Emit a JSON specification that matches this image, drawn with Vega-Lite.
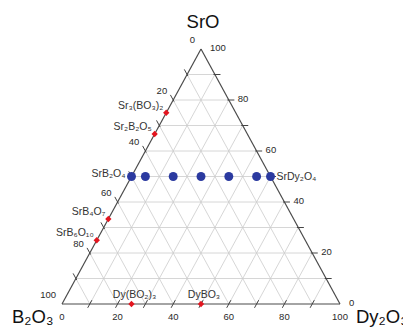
{
  "$schema": "https://vega.github.io/schema/vega-lite/v6.json",
  "width": 278,
  "height": 255,
  "autosize": "none",
  "padding": {"left": 62, "top": 49, "right": 63, "bottom": 23},
  "background": "white",
  "config": {"view": {"stroke": null}, "font": "Liberation Sans"},
  "datasets": {
    "steps": [{"v": 10}, {"v": 20}, {"v": 30}, {"v": 40}, {"v": 50}, {"v": 60}, {"v": 70}, {"v": 80}, {"v": 90}],
    "ticklabels": [{"v": 0}, {"v": 20}, {"v": 40}, {"v": 60}, {"v": 80}, {"v": 100}],
    "edges": [
      {"d1": 0, "s1": 0, "d2": 100, "s2": 0},
      {"d1": 100, "s1": 0, "d2": 0, "s2": 100},
      {"d1": 0, "s1": 100, "d2": 0, "s2": 0}
    ],
    "titles": [
      {"title": "SrO", "Dy": 0, "SrO": 100, "corner": "top"},
      {"title": "B₂O₃", "Dy": 0, "SrO": 0, "corner": "left"},
      {"title": "Dy₂O₃", "Dy": 100, "SrO": 0, "corner": "right"}
    ],
    "phases": [
      {"name": "Sr₃(BO₃)₂", "Dy": 0, "SrO": 75, "side": "left"},
      {"name": "Sr₂B₂O₅", "Dy": 0, "SrO": 66.67, "side": "left"},
      {"name": "SrB₄O₇", "Dy": 0, "SrO": 33.33, "side": "left"},
      {"name": "SrB₆O₁₀", "Dy": 0, "SrO": 25, "side": "left"},
      {"name": "Dy(BO₂)₃", "Dy": 25, "SrO": 0, "side": "bottom"},
      {"name": "DyBO₃", "Dy": 50, "SrO": 0, "side": "bottom"}
    ],
    "named": [
      {"name": "SrB₂O₄", "Dy": 0, "SrO": 50, "side": "left"},
      {"name": "SrDy₂O₄", "Dy": 50, "SrO": 50, "side": "right"}
    ],
    "samples": [
      {"Dy": 0, "SrO": 50},
      {"Dy": 5, "SrO": 50},
      {"Dy": 15, "SrO": 50},
      {"Dy": 25, "SrO": 50},
      {"Dy": 35, "SrO": 50},
      {"Dy": 45, "SrO": 50},
      {"Dy": 50, "SrO": 50}
    ]
  },
  "encoding": {
    "x": {"field": "xa", "type": "quantitative", "scale": {"domain": [0, 100], "nice": false, "zero": false}, "axis": null},
    "y": {"field": "ya", "type": "quantitative", "scale": {"domain": [0, 100], "nice": false, "zero": false}, "axis": null}
  },
  "layer": [
    {
      "data": {"name": "steps"},
      "transform": [
        {"calculate": "datum.v/2", "as": "xa"},
        {"calculate": "datum.v", "as": "ya"},
        {"calculate": "100-datum.v/2", "as": "xb"},
        {"calculate": "datum.v", "as": "yb"}
      ],
      "mark": {"type": "rule", "color": "#cccccc", "strokeWidth": 0.8},
      "encoding": {"x2": {"field": "xb"}, "y2": {"field": "yb"}}
    },
    {
      "data": {"name": "steps"},
      "transform": [
        {"calculate": "datum.v", "as": "xa"},
        {"calculate": "0", "as": "ya"},
        {"calculate": "50+datum.v/2", "as": "xb"},
        {"calculate": "100-datum.v", "as": "yb"}
      ],
      "mark": {"type": "rule", "color": "#cccccc", "strokeWidth": 0.8},
      "encoding": {"x2": {"field": "xb"}, "y2": {"field": "yb"}}
    },
    {
      "data": {"name": "steps"},
      "transform": [
        {"calculate": "100-datum.v", "as": "xa"},
        {"calculate": "0", "as": "ya"},
        {"calculate": "(100-datum.v)/2", "as": "xb"},
        {"calculate": "100-datum.v", "as": "yb"}
      ],
      "mark": {"type": "rule", "color": "#cccccc", "strokeWidth": 0.8},
      "encoding": {"x2": {"field": "xb"}, "y2": {"field": "yb"}}
    },
    {
      "data": {"name": "edges"},
      "transform": [
        {"calculate": "datum.d1+datum.s1/2", "as": "xa"},
        {"calculate": "datum.s1", "as": "ya"},
        {"calculate": "datum.d2+datum.s2/2", "as": "xb"},
        {"calculate": "datum.s2", "as": "yb"}
      ],
      "mark": {"type": "rule", "color": "#4a4a4a", "strokeWidth": 1.2},
      "encoding": {"x2": {"field": "xb"}, "y2": {"field": "yb"}}
    },
    {
      "data": {"name": "steps"},
      "transform": [
        {"calculate": "datum.v-0.75", "as": "xa"},
        {"calculate": "-1.5", "as": "ya"},
        {"calculate": "datum.v+0.75", "as": "xb"},
        {"calculate": "1.5", "as": "yb"}
      ],
      "mark": {"type": "rule", "color": "#444444", "strokeWidth": 1},
      "encoding": {"x2": {"field": "xb"}, "y2": {"field": "yb"}}
    },
    {
      "data": {"name": "steps"},
      "transform": [
        {"calculate": "100-datum.v/2-0.5", "as": "xa"},
        {"calculate": "datum.v", "as": "ya"},
        {"calculate": "100-datum.v/2+2", "as": "xb"},
        {"calculate": "datum.v", "as": "yb"}
      ],
      "mark": {"type": "rule", "color": "#444444", "strokeWidth": 1},
      "encoding": {"x2": {"field": "xb"}, "y2": {"field": "yb"}}
    },
    {
      "data": {"name": "steps"},
      "transform": [
        {"calculate": "(98-datum.v)/2", "as": "xa"},
        {"calculate": "102-datum.v", "as": "ya"},
        {"calculate": "(100.6-datum.v)/2", "as": "xb"},
        {"calculate": "99.4-datum.v", "as": "yb"}
      ],
      "mark": {"type": "rule", "color": "#444444", "strokeWidth": 1},
      "encoding": {"x2": {"field": "xb"}, "y2": {"field": "yb"}}
    },
    {
      "data": {"name": "ticklabels"},
      "transform": [
        {"calculate": "datum.v", "as": "xa"},
        {"calculate": "0", "as": "ya"}
      ],
      "mark": {"type": "text", "fontSize": 9.5, "color": "#2a2a2a", "align": "center", "baseline": "middle", "dy": 13},
      "encoding": {"text": {"field": "v", "type": "nominal"}}
    },
    {
      "data": {"name": "ticklabels"},
      "transform": [
        {"calculate": "100-datum.v/2", "as": "xa"},
        {"calculate": "datum.v", "as": "ya"}
      ],
      "mark": {"type": "text", "fontSize": 9.5, "color": "#2a2a2a", "align": "left", "baseline": "middle", "dx": 9, "dy": -1},
      "encoding": {"text": {"field": "v", "type": "nominal"}}
    },
    {
      "data": {"name": "ticklabels"},
      "transform": [
        {"calculate": "(100-datum.v)/2", "as": "xa"},
        {"calculate": "100-datum.v", "as": "ya"}
      ],
      "mark": {"type": "text", "fontSize": 9.5, "color": "#2a2a2a", "align": "right", "baseline": "middle", "dx": -6, "dy": -9},
      "encoding": {"text": {"field": "v", "type": "nominal"}}
    },
    {
      "data": {"name": "titles"},
      "transform": [
        {"filter": "datum.corner == 'top'"},
        {"calculate": "datum.Dy+datum.SrO/2", "as": "xa"},
        {"calculate": "datum.SrO", "as": "ya"}
      ],
      "mark": {"type": "text", "fontSize": 18.5, "color": "#111111", "align": "center", "baseline": "middle", "dx": 2, "dy": -27},
      "encoding": {"text": {"field": "title"}}
    },
    {
      "data": {"name": "titles"},
      "transform": [
        {"filter": "datum.corner == 'left'"},
        {"calculate": "datum.Dy+datum.SrO/2", "as": "xa"},
        {"calculate": "datum.SrO", "as": "ya"}
      ],
      "mark": {"type": "text", "fontSize": 18.5, "color": "#111111", "align": "left", "baseline": "middle", "dx": -50, "dy": 13},
      "encoding": {"text": {"field": "title"}}
    },
    {
      "data": {"name": "titles"},
      "transform": [
        {"filter": "datum.corner == 'right'"},
        {"calculate": "datum.Dy+datum.SrO/2", "as": "xa"},
        {"calculate": "datum.SrO", "as": "ya"}
      ],
      "mark": {"type": "text", "fontSize": 18.5, "color": "#111111", "align": "left", "baseline": "middle", "dx": 16, "dy": 13},
      "encoding": {"text": {"field": "title"}}
    },
    {
      "data": {"name": "samples"},
      "transform": [
        {"calculate": "datum.Dy+datum.SrO/2", "as": "xa"},
        {"calculate": "datum.SrO", "as": "ya"}
      ],
      "mark": {"type": "point", "shape": "circle", "filled": true, "size": 80, "color": "#2b3aa0", "opacity": 1}
    },
    {
      "data": {"name": "phases"},
      "transform": [
        {"calculate": "datum.Dy+datum.SrO/2", "as": "xa"},
        {"calculate": "datum.SrO", "as": "ya"}
      ],
      "mark": {"type": "point", "shape": "diamond", "filled": true, "size": 40, "color": "#e3151f", "opacity": 1}
    },
    {
      "data": {"name": "phases"},
      "transform": [
        {"filter": "datum.side == 'left'"},
        {"calculate": "datum.Dy+datum.SrO/2", "as": "xa"},
        {"calculate": "datum.SrO", "as": "ya"}
      ],
      "mark": {"type": "text", "fontSize": 10.5, "color": "#333333", "align": "right", "baseline": "middle", "dx": -3, "dy": -7},
      "encoding": {"text": {"field": "name"}}
    },
    {
      "data": {"name": "phases"},
      "transform": [
        {"filter": "datum.side == 'bottom'"},
        {"calculate": "datum.Dy+datum.SrO/2", "as": "xa"},
        {"calculate": "datum.SrO", "as": "ya"}
      ],
      "mark": {"type": "text", "fontSize": 10.5, "color": "#333333", "align": "center", "baseline": "middle", "dx": 3, "dy": -9},
      "encoding": {"text": {"field": "name"}}
    },
    {
      "data": {"name": "named"},
      "transform": [
        {"filter": "datum.side == 'left'"},
        {"calculate": "datum.Dy+datum.SrO/2", "as": "xa"},
        {"calculate": "datum.SrO", "as": "ya"}
      ],
      "mark": {"type": "text", "fontSize": 10.5, "color": "#333333", "align": "right", "baseline": "middle", "dx": -6, "dy": -3},
      "encoding": {"text": {"field": "name"}}
    },
    {
      "data": {"name": "named"},
      "transform": [
        {"filter": "datum.side == 'right'"},
        {"calculate": "datum.Dy+datum.SrO/2", "as": "xa"},
        {"calculate": "datum.SrO", "as": "ya"}
      ],
      "mark": {"type": "text", "fontSize": 10.5, "color": "#333333", "align": "left", "baseline": "middle", "dx": 6, "dy": 0},
      "encoding": {"text": {"field": "name"}}
    }
  ]
}
